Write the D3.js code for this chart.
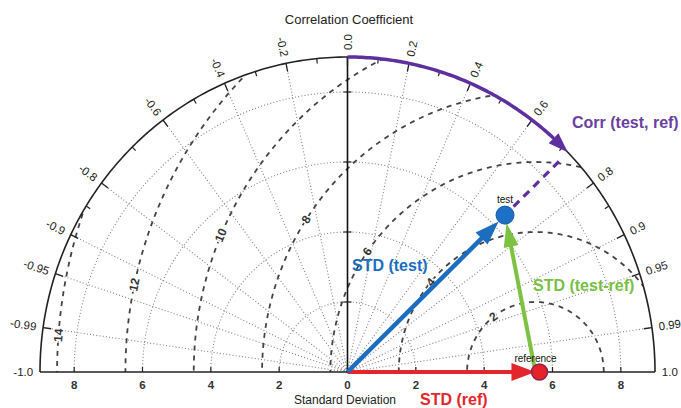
<!DOCTYPE html>
<html><head><meta charset="utf-8">
<script src="https://cdn.jsdelivr.net/npm/d3@7"></script>
<style>body{margin:0;background:#fff}svg{display:block}</style>
</head><body><svg id="c" width="681" height="408"></svg>
<script>
// ---------- data ----------
const corrMajor = [-1, -0.99, -0.95, -0.9, -0.8, -0.6, -0.4, -0.2, 0, 0.2, 0.4, 0.6, 0.8, 0.9, 0.95, 0.99, 1];
const corrLabels = ["-1.0", "-0.99", "-0.95", "-0.9", "-0.8", "-0.6", "-0.4", "-0.2", "0.0", "0.2", "0.4", "0.6", "0.8", "0.9", "0.95", "0.99", "1.0"];
const corrMinor = [-0.85, -0.7, -0.5, -0.3, -0.1, 0.1, 0.3, 0.5, 0.7, 0.85];
const stdTicks = [-8, -6, -4, -2, 0, 2, 4, 6, 8];
const stdTickLabels = ["8", "6", "4", "2", "0", "2", "4", "6", "8"];
const stdArcs = [2, 4, 6, 8];
const rmsRadii = [2, 4, 6, 8, 10, 12, 14];
const rmsLabels = ["2", "4", "6", "8", "10", "12", "14"];
const rmsLabelAngles = [128, 140, 145, 147, 157, 168, 175.7];
const stdMax = 9;
const refStd = 5.5;
const refMarkerStd = 5.62;
const testStd = 6.43;
const testCorr = 0.717;

// ---------- setup ----------
const svg = d3.select("#c");
const x = d3.scaleLinear().domain([-stdMax, stdMax]).range([40, 655]);
const y = d3.scaleLinear().domain([0, stdMax]).range([372, 57]);
const P = (r, th) => [x(r * Math.cos(th)), y(r * Math.sin(th))];
const thOf = c => Math.acos(c);
const line = d3.line();
const FONT = "'Liberation Sans', Arial, sans-serif";

const arcPts = (r, t0, t1, n = 240) => d3.range(n + 1).map(i => P(r, t0 + (t1 - t0) * i / n));

const defs = svg.append("defs");
defs.append("clipPath").attr("id", "half")
  .append("path").attr("d", line(arcPts(stdMax, 0, Math.PI)) + "Z");

const g = svg.append("g");

// std dotted arcs
g.selectAll(".sarc").data(stdArcs).join("path")
  .attr("d", r => line(arcPts(r, 0, Math.PI)))
  .attr("fill", "none").attr("stroke", "#808080").attr("stroke-width", 1.1)
  .attr("stroke-dasharray", "1,2.2");

// radial dotted lines
g.selectAll(".rad").data(corrMajor.filter(c => Math.abs(c) < 1 && c !== 0)).join("path")
  .attr("d", c => line([P(0, 0), P(stdMax, thOf(c))]))
  .attr("stroke", "#808080").attr("stroke-width", 1.1).attr("stroke-dasharray", "1,2.2");

// RMS dashed circles around reference
const gr = g.append("g").attr("clip-path", "url(#half)");
gr.selectAll("path").data(rmsRadii).join("path")
  .attr("d", R => line(d3.range(361).map(i => {
    const f = Math.PI * i / 360;
    return [x(refStd + R * Math.cos(f)), y(R * Math.sin(f))];
  })))
  .attr("fill", "none").attr("stroke", "#444").attr("stroke-width", 1.8)
  .attr("stroke-dasharray", "5,5");

// RMS labels
g.selectAll(".rl").data(rmsRadii).join("text")
  .attr("transform", (R, i) => {
    const f = rmsLabelAngles[i] * Math.PI / 180;
    return `translate(${x(refStd + R * Math.cos(f))},${y(R * Math.sin(f))}) rotate(${90 - rmsLabelAngles[i]})`;
  })
  .attr("text-anchor", "middle").attr("dominant-baseline", "central")
  .attr("font-family", FONT).attr("font-size", 12).attr("font-weight", "bold").attr("fill", "#333")
  .attr("stroke", "#fff").attr("stroke-width", 3).attr("paint-order", "stroke")
  .text((R, i) => rmsLabels[i]);

// outer arc + baseline + vertical
g.append("path").attr("d", line(arcPts(stdMax, 0, Math.PI)))
  .attr("fill", "none").attr("stroke", "#222").attr("stroke-width", 1.6);
g.append("path").attr("d", line([P(stdMax, Math.PI), P(stdMax, 0)]))
  .attr("stroke", "#222").attr("stroke-width", 1.4);
g.append("path").attr("d", line([P(0, 0), P(stdMax, Math.PI / 2)]))
  .attr("stroke", "#111").attr("stroke-width", 1.6);

// ticks on arc
g.selectAll(".mt").data(corrMajor.filter(c => Math.abs(c) < 1)).join("path")
  .attr("d", c => line([P(stdMax, thOf(c)), P(stdMax - 0.24, thOf(c))]))
  .attr("stroke", "#222").attr("stroke-width", 1.3);
g.selectAll(".nt").data(corrMinor).join("path")
  .attr("d", c => line([P(stdMax, thOf(c)), P(stdMax - 0.14, thOf(c))]))
  .attr("stroke", "#222").attr("stroke-width", 1.2);

// ticks on baseline & vertical axis
g.selectAll(".bt").data(stdTicks).join("path")
  .attr("d", s => line([[x(s), y(0)], [x(s), y(0) - 5]]))
  .attr("stroke", "#222").attr("stroke-width", 1.2);
g.selectAll(".vt").data(stdArcs).join("path")
  .attr("d", s => line([[x(0) - 4, y(s)], [x(0) + 4, y(s)]]))
  .attr("stroke", "#222").attr("stroke-width", 1.2);

// corr labels
g.selectAll(".cl").data(corrMajor).join("text")
  .attr("transform", c => {
    const th = thOf(c), p = P(stdMax + 0.2, th), deg = th * 180 / Math.PI;
    return `translate(${p[0]},${p[1]}) rotate(${c >= 0 ? -deg : 180 - deg})`;
  })
  .attr("text-anchor", c => c >= 0 ? "start" : "end")
  .attr("dominant-baseline", "central")
  .attr("font-family", FONT).attr("font-size", 11.5).attr("fill", "#222")
  .text((c, i) => corrLabels[i]);

// std tick labels
g.selectAll(".sl").data(stdTicks).join("text")
  .attr("x", s => x(s)).attr("y", y(0) + 17)
  .attr("text-anchor", "middle").attr("font-family", FONT).attr("font-size", 11.5)
  .attr("font-weight", "bold").attr("fill", "#333")
  .text((s, i) => stdTickLabels[i]);

// axis titles
svg.append("text").attr("x", 349).attr("y", 24).attr("text-anchor", "middle")
  .attr("font-family", FONT).attr("font-size", 13).attr("fill", "#222").text("Correlation Coefficient");
svg.append("text").attr("x", 345).attr("y", 404).attr("text-anchor", "middle")
  .attr("font-family", FONT).attr("font-size", 12).attr("fill", "#222").text("Standard Deviation");

// ---------- annotations ----------
const thT = thOf(testCorr);
const pTest = P(testStd, thT);
const pRef = P(refStd, 0);
const pRefDot = P(refMarkerStd, 0);
const pO = P(0, 0);

function arrow(S, T, color, width, L, W, back) {
  const dx = T[0] - S[0], dy = T[1] - S[1], d = Math.hypot(dx, dy);
  const ux = dx / d, uy = dy / d;
  const tip = [T[0] - ux * back, T[1] - uy * back];
  const base = [tip[0] - ux * L, tip[1] - uy * L];
  svg.append("path").attr("d", line([S, [base[0] + ux * 1, base[1] + uy * 1]]))
    .attr("stroke", color).attr("stroke-width", width).attr("fill", "none");
  svg.append("path").attr("d", line([tip, [base[0] - uy * W / 2, base[1] + ux * W / 2], [base[0] + uy * W / 2, base[1] - ux * W / 2]]) + "Z")
    .attr("fill", color);
}

// purple arc arrow
const purple = "#5E2F9E";
const thEnd = thT + 0.065;
svg.append("path").attr("d", line(arcPts(stdMax, Math.PI / 2, thEnd, 80)))
  .attr("fill", "none").attr("stroke", purple).attr("stroke-width", 3.5);
{
  const base = P(stdMax, thEnd), tip = P(stdMax, thT);
  const dx = tip[0] - base[0], dy = tip[1] - base[1], d = Math.hypot(dx, dy);
  const ux = dx / d, uy = dy / d, W = 14;
  svg.append("path").attr("d", line([[base[0] + ux * 20, base[1] + uy * 20], [base[0] - uy * W / 2, base[1] + ux * W / 2], [base[0] + uy * W / 2, base[1] - ux * W / 2]]) + "Z")
    .attr("fill", purple);
}
svg.append("path").attr("d", line([P(testStd + 0.35, thT), P(stdMax - 0.3, thT)]))
  .attr("stroke", purple).attr("stroke-width", 3.2).attr("stroke-dasharray", "8,6");

arrow(pO, pRef, "#E2262B", 4, 24, 18, 0);
arrow(pO, pTest, "#1A6DBF", 4.5, 24, 17, 9);
arrow(pRef, pTest, "#7DC242", 4, 24, 15, 8);

svg.append("circle").attr("cx", pRefDot[0]).attr("cy", pRefDot[1]).attr("r", 8)
  .attr("fill", "#E5232B").attr("stroke", "#8E2450").attr("stroke-width", 1.5);
svg.append("circle").attr("cx", pTest[0]).attr("cy", pTest[1]).attr("r", 9)
  .attr("fill", "#1E6FC8").attr("stroke", "#175BA6").attr("stroke-width", 1);

svg.append("text").attr("x", pTest[0]).attr("y", pTest[1] - 12).attr("text-anchor", "middle")
  .attr("font-family", FONT).attr("font-size", 10).attr("fill", "#111").text("test");
svg.append("text").attr("x", pRefDot[0] - 4).attr("y", pRefDot[1] - 10).attr("text-anchor", "middle")
  .attr("font-family", FONT).attr("font-size", 10).attr("fill", "#111").text("reference");

const lab = (tx, ty, t, col) => svg.append("text").attr("x", tx).attr("y", ty)
  .attr("font-family", FONT).attr("font-size", 16).attr("font-weight", "bold").attr("fill", col).text(t);
lab(572, 128, "Corr (test, ref)", "#6B3FA0");
lab(352, 271, "STD (test)", "#1A6DBF");
lab(533, 291, "STD (test-ref)", "#78C043");
lab(420, 405, "STD (ref)", "#E2262B");
</script></body></html>
